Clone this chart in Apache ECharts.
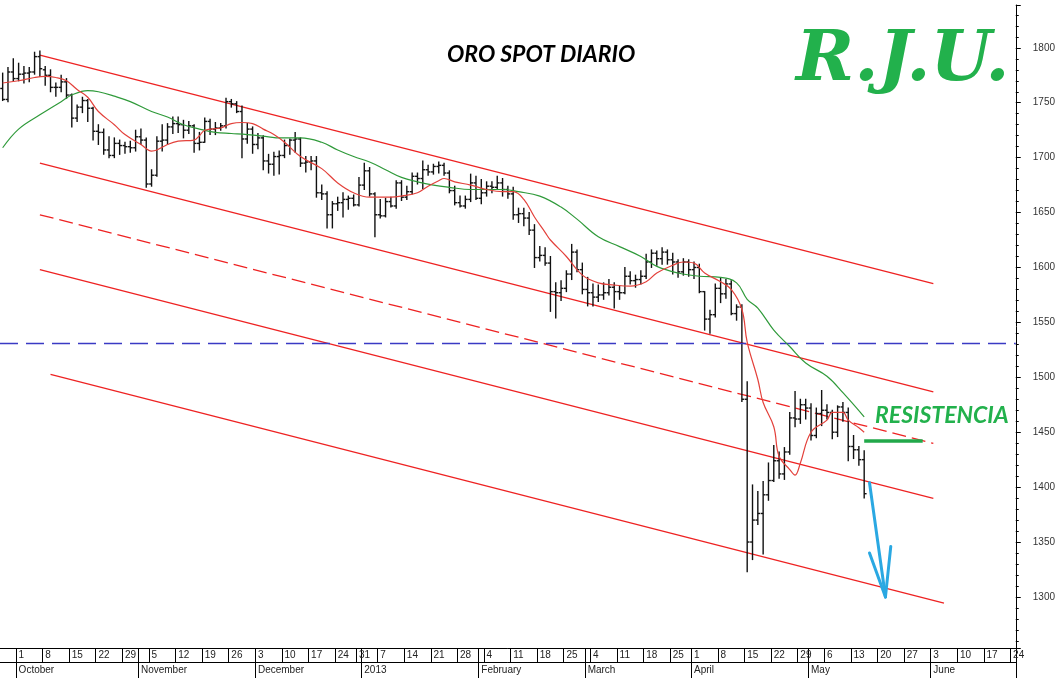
<!DOCTYPE html>
<html>
<head>
<meta charset="utf-8">
<script src="https://cdn.jsdelivr.net/npm/echarts@6/dist/echarts.min.js"></script>
<style>
html,body{margin:0;padding:0;background:#fff;}
#chart{width:1058px;height:678px;}
</style>
</head>
<body>
<div id="chart"></div>
<script>
// ---- Calendar (trading days, weekends and market holidays skipped) ----
const firstDay = '2012-09-26';
const lastDay = '2013-06-24';
const holidays = ['2012-12-25', '2013-01-01', '2013-03-29'];

// ---- Tick labels ----
const monthLabels = {1:'2013', 2:'February', 3:'March', 4:'April', 5:'May', 6:'June', 10:'October', 11:'November', 12:'December'};
const chartTitle = 'ORO SPOT DIARIO';
const signature = 'R.J.U.';
const resistanceText = 'RESISTENCIA';

// ---- Daily OHLC bars [open, high, low, close], from 2012-09-26 ----
const ohlc = [
  [1763,1777,1752,1753],[1753,1782,1751,1778],[1778,1790,1770,1772],
  // Oct 1-5
  [1772,1786,1770,1776],[1776,1783,1768,1777],[1777,1782,1769,1778],[1778,1796,1776,1792],[1792,1797,1774,1781],
  // Oct 8-12
  [1780,1783,1766,1775],[1775,1780,1760,1764],[1764,1768,1756,1764],[1764,1775,1760,1769],[1769,1772,1754,1757],
  // Oct 15-19
  [1757,1758,1728,1736],[1736,1748,1733,1746],[1746,1755,1741,1752],[1752,1753,1733,1745],[1745,1746,1716,1724],
  // Oct 22-26
  [1724,1730,1712,1723],[1723,1726,1703,1707],[1707,1719,1700,1702],[1702,1718,1700,1713],[1713,1716,1703,1711],
  // Oct 29 - Nov 2
  [1711,1714,1704,1710],[1710,1715,1705,1709],[1709,1725,1706,1719],[1719,1726,1712,1716],[1716,1718,1673,1676],
  // Nov 5-9
  [1676,1689,1674,1684],[1684,1719,1683,1715],[1715,1730,1706,1716],[1716,1731,1712,1728],[1728,1737,1722,1731],
  // Nov 12-16
  [1731,1737,1723,1730],[1730,1734,1718,1725],[1725,1733,1722,1729],[1729,1730,1705,1713],[1713,1723,1707,1714],
  // Nov 19-23
  [1714,1736,1714,1733],[1733,1735,1721,1726],[1726,1732,1721,1727],[1727,1731,1725,1729],[1729,1754,1727,1751],
  // Nov 26-30
  [1751,1753,1746,1749],[1749,1751,1741,1742],[1742,1747,1700,1717],[1717,1731,1713,1726],[1726,1728,1704,1712],
  // Dec 3-7
  [1712,1722,1708,1718],[1718,1720,1689,1697],[1697,1703,1686,1694],[1694,1705,1684,1701],[1701,1706,1685,1702],
  // Dec 10-14
  [1702,1716,1700,1711],[1711,1717,1703,1716],[1716,1723,1705,1717],[1717,1718,1692,1695],[1695,1701,1687,1696],
  // Dec 17-21
  [1696,1701,1689,1697],[1697,1701,1664,1668],[1668,1675,1662,1667],[1667,1669,1636,1648],[1648,1660,1636,1658],
  // Dec 24-28
  [1658,1664,1652,1659],[1659,1668,1646,1662],[1662,1665,1653,1663],[1663,1666,1656,1657],
  // Dec 31 - Jan 4
  [1657,1682,1656,1675],[1675,1695,1671,1688],[1688,1691,1665,1667],[1667,1668,1628,1648],
  // Jan 7-11
  [1648,1662,1645,1647],[1647,1663,1646,1660],[1660,1664,1655,1656],[1656,1679,1654,1677],[1677,1679,1661,1664],
  // Jan 14-18
  [1664,1674,1662,1669],[1669,1686,1667,1683],[1683,1686,1676,1681],[1681,1697,1672,1689],[1689,1693,1684,1687],
  // Jan 21-25
  [1687,1694,1685,1692],[1692,1696,1686,1693],[1693,1695,1684,1686],[1686,1688,1668,1670],[1670,1674,1657,1659],
  // Jan 28 - Feb 1
  [1659,1665,1655,1656],[1656,1665,1654,1662],[1662,1685,1660,1677],[1677,1683,1662,1663],[1663,1680,1658,1668],
  // Feb 4-8
  [1668,1678,1665,1674],[1674,1678,1668,1673],[1673,1683,1671,1677],[1677,1681,1665,1671],[1671,1674,1663,1667],
  // Feb 11-15
  [1667,1673,1644,1648],[1648,1654,1641,1649],[1649,1654,1638,1645],[1645,1650,1630,1634],[1634,1639,1600,1609],
  // Feb 18-22
  [1609,1619,1606,1611],[1611,1618,1602,1604],[1604,1610,1560,1578],[1578,1586,1554,1577],[1577,1588,1570,1581],
  // Feb 25 - Mar 1
  [1581,1597,1578,1594],[1594,1621,1589,1614],[1614,1616,1596,1598],[1598,1604,1576,1580],[1580,1591,1565,1577],
  // Mar 4-8
  [1577,1585,1565,1573],[1573,1584,1569,1575],[1575,1586,1571,1577],[1577,1589,1575,1582],[1582,1586,1563,1578],
  // Mar 11-15
  [1578,1583,1571,1577],[1577,1600,1576,1592],[1592,1596,1585,1588],[1588,1593,1582,1589],[1589,1597,1585,1592],
  // Mar 18-22
  [1592,1612,1590,1605],[1605,1616,1600,1613],[1613,1615,1602,1608],[1608,1618,1603,1614],[1614,1616,1603,1607],
  // Mar 25-28
  [1607,1613,1594,1605],[1605,1607,1591,1596],[1596,1608,1593,1605],[1605,1607,1592,1598],
  // Apr 1-5
  [1598,1605,1590,1600],[1600,1603,1577,1578],[1578,1578,1543,1553],[1553,1561,1540,1557],[1557,1585,1555,1581],
  // Apr 8-12
  [1581,1590,1568,1576],[1576,1589,1572,1585],[1585,1588,1557,1558],[1558,1566,1552,1564],[1564,1566,1478,1480],
  // Apr 15-19
  [1480,1496,1323,1350],[1350,1402,1334,1370],[1370,1396,1366,1376],[1376,1405,1339,1393],[1393,1422,1388,1406],
  // Apr 22-26
  [1406,1438,1405,1424],[1424,1432,1408,1412],[1412,1436,1407,1432],[1432,1468,1430,1463],[1463,1487,1455,1462],
  // Apr 29 - May 3
  [1462,1480,1458,1475],[1475,1480,1462,1472],[1472,1476,1443,1447],[1447,1472,1445,1467],[1467,1488,1456,1470],
  // May 6-10
  [1470,1475,1462,1468],[1468,1470,1444,1450],[1450,1474,1446,1473],[1473,1477,1460,1468],[1468,1472,1424,1437],
  // May 13-15
  [1437,1447,1426,1434],[1434,1437,1420,1425],[1425,1433,1390,1394]
];

// ---- Moving averages: [trading-day index, value] ----
const maFast = [
  [0,1768],[3,1770],[6,1773],[8,1774],[10,1773],[12,1770],[14,1762],[16,1755],[18,1742],[21,1730],
  [23,1721],[26,1712],[28,1706],[29,1707],[31,1712],[33,1715],[36,1716],[37,1720],[38,1725],[41,1727],
  [43,1731],[45,1732],[47,1731],[49,1726],[51,1721],[53,1714],[56,1701],[60,1690],[63,1677],[66,1668],
  [69,1664],[73,1664],[75,1665],[78,1668],[80,1674],[82,1679],[83,1681],[85,1678],[88,1675],[91,1671],
  [94,1669],[96,1669],[98,1662],[100,1646],[102,1632],[103,1625],[106,1610],[109,1593],[112,1586],[115,1584],
  [118,1583],[121,1587],[123,1595],[126,1602],[128,1605],[130,1604],[132,1595],[135,1587],[137,1580],[139,1562],
  [140,1532],[142,1498],[143,1477],[145,1455],[146,1428],[148,1416],[149,1411],[150,1422],[152,1450],[155,1461],
  [156,1468],[158,1468],[159,1461],[161,1454],[162,1450]
];
const maSlow = [
  [0,1709],[3,1726],[7,1739],[11,1751],[13,1757],[16,1761],[18,1760],[21,1756],[24,1751],[28,1742],
  [31,1737],[34,1730],[37,1726],[40,1723],[43,1722],[46,1721],[50,1719],[52,1718],[56,1718],[60,1714],
  [63,1707],[66,1701],[69,1696],[72,1689],[75,1682],[78,1678],[81,1675],[84,1673],[88,1671],[91,1671],
  [94,1671],[97,1669],[101,1665],[105,1655],[108,1644],[112,1628],[116,1619],[120,1610],[123,1601],[127,1595],
  [131,1592],[135,1591],[138,1586],[140,1571],[142,1563],[145,1543],[148,1528],[151,1513],[155,1501],[158,1486],
  [162,1464]
];

// ---- Drawn trend channel: [trading-day index, value] end points ----
const channelTop    = [[7,1793.4],[175,1585.2]];
const channelUpper  = [[7,1695.0],[175,1486.8]];
const channelMiddle = [[7,1648.0],[175,1439.8]];
const channelLower  = [[7,1598.0],[175,1389.8]];
const channelBottom = [[9,1502.6],[177,1294.4]];
const supportLevel = 1531;
const resistance = [[162,1442],[173,1442]];
const arrowShaft = [[163,1404],[166,1300]];
const arrowLeft  = [[163,1340],[166,1300]];
const arrowRight = [[167,1346],[166,1300]];

// ---- build categories ----
const days = [];
for (let t = Date.parse(firstDay + 'T00:00:00Z'); t <= Date.parse(lastDay + 'T00:00:00Z'); t += 864e5) {
  const d = new Date(t);
  const s = d.toISOString().slice(0, 10);
  const wd = d.getUTCDay();
  if (wd === 0 || wd === 6 || holidays.indexOf(s) >= 0) continue;
  days.push(s);
}
const isMonday = days.map(s => new Date(s + 'T00:00:00Z').getUTCDay() === 1);
const isMonthStart = days.map((s, i) => i > 0 && s.slice(5, 7) !== days[i - 1].slice(5, 7));

const chart = echarts.init(document.getElementById('chart'), null, {renderer: 'canvas'});

const redLine = {color: '#ee2222', width: 1.3};
function chan(data, dashed) {
  return {
    type: 'line', data: data, symbol: 'none', silent: true, z: 3,
    lineStyle: Object.assign({}, redLine, dashed ? {type: [14, 6]} : {}),
    animation: false
  };
}
function seg(data, style) {
  return {type: 'line', data: data, symbol: 'none', silent: true, z: 6, lineStyle: style, animation: false};
}

const option = {
  animation: false,
  backgroundColor: '#ffffff',
  grid: {left: 0, right: 40, top: 5, bottom: 30, containLabel: false},
  xAxis: [
    {
      type: 'category', data: days, position: 'bottom', boundaryGap: true,
      axisLine: {show: true, lineStyle: {color: '#000', width: 1}},
      axisTick: {show: true, interval: (i) => isMonday[i] || isMonthStart[i], length: 14, lineStyle: {color: '#000', width: 1}},
      axisLabel: {
        interval: (i) => isMonday[i], align: 'left', margin: 2,
        formatter: (v) => String(parseInt(v.slice(8), 10)),
        fontFamily: 'Liberation Sans', fontSize: 10, color: '#222'
      },
      splitLine: {show: false}
    },
    {
      type: 'category', data: days, position: 'bottom', offset: 14, boundaryGap: true,
      axisLine: {show: true, lineStyle: {color: '#000', width: 1}},
      axisTick: {show: true, interval: (i) => isMonthStart[i], length: 16, lineStyle: {color: '#000', width: 1}},
      axisLabel: {
        interval: (i) => isMonthStart[i], align: 'left', margin: 3,
        formatter: (v) => monthLabels[parseInt(v.slice(5, 7), 10)],
        fontFamily: 'Liberation Sans', fontSize: 10, color: '#222'
      },
      splitLine: {show: false}
    }
  ],
  yAxis: {
    type: 'value', position: 'right', min: 1253.5, max: 1839, splitNumber: 12,
    axisLine: {show: true, lineStyle: {color: '#000', width: 1}},
    axisTick: {show: true, length: 5, lineStyle: {color: '#000'}},
    minorTick: {show: true, splitNumber: 5, length: 3, lineStyle: {color: '#000'}},
    axisLabel: {
      margin: 17, fontFamily: 'Liberation Sans', fontSize: 10, color: '#333',
      showMinLabel: false, showMaxLabel: false,
      formatter: (v) => String(Math.round(v))
    },
    splitLine: {show: false}
  },
  graphic: [
    {type: 'text', left: 447, top: 43, z: 100,
     style: {text: chartTitle, fontFamily: 'Lato', fontSize: 23, fontWeight: 'bold', fontStyle: 'italic', fill: '#000'}},
    {type: 'text', left: 796, top: 27, z: 100,
     style: {text: signature, fontFamily: '"DejaVu Serif", "Liberation Serif", serif', fontSize: 70, fontWeight: 'bold', fontStyle: 'italic', fill: '#22b14c'}},
    {type: 'text', left: 875, top: 404, z: 100,
     style: {text: resistanceText, fontFamily: 'Lato', fontSize: 23, fontWeight: 'bold', fontStyle: 'italic', fill: '#22b14c'}}
  ],
  series: [
    {
      type: 'custom', name: 'bars', z: 4, silent: true,
      data: ohlc.map((r, i) => [i, r[0], r[1], r[2], r[3]]),
      encode: {x: 0, y: [1, 2, 3, 4]},
      renderItem: function (params, api) {
        const i = api.value(0);
        const o = api.coord([i, api.value(1)]);
        const h = api.coord([i, api.value(2)]);
        const l = api.coord([i, api.value(3)]);
        const c = api.coord([i, api.value(4)]);
        const w = api.size([1, 0])[0] * 0.45;
        const st = {stroke: '#111', lineWidth: 1.4};
        return {
          type: 'group',
          children: [
            {type: 'line', shape: {x1: h[0], y1: h[1] - 0.5, x2: l[0], y2: l[1] + 0.5}, style: st},
            {type: 'line', shape: {x1: o[0] - w, y1: o[1], x2: o[0], y2: o[1]}, style: st},
            {type: 'line', shape: {x1: c[0], y1: c[1], x2: c[0] + w, y2: c[1]}, style: st}
          ]
        };
      }
    },
    {type: 'line', data: maSlow, smooth: 0.4, symbol: 'none', silent: true, z: 5, lineStyle: {color: '#2f9a3a', width: 1.2}},
    {type: 'line', data: maFast, smooth: 0.4, symbol: 'none', silent: true, z: 5, lineStyle: {color: '#e3413b', width: 1.2}},
    chan(channelTop), chan(channelUpper), chan(channelMiddle, true), chan(channelLower), chan(channelBottom),
    {
      type: 'line', data: resistance, symbol: 'none', silent: true, z: 6,
      lineStyle: {color: '#22a84a', width: 3.5},
      markLine: {
        silent: true, symbol: 'none', label: {show: false},
        lineStyle: {color: '#3a3ac4', width: 1.3, type: [18, 8]},
        data: [{yAxis: supportLevel}]
      }
    },
    seg(arrowShaft, {color: '#2aa8e2', width: 3, cap: 'round'}),
    seg(arrowLeft, {color: '#2aa8e2', width: 3, cap: 'round'}),
    seg(arrowRight, {color: '#2aa8e2', width: 3, cap: 'round'})
  ]
};
chart.setOption(option);
</script>
</body>
</html>
